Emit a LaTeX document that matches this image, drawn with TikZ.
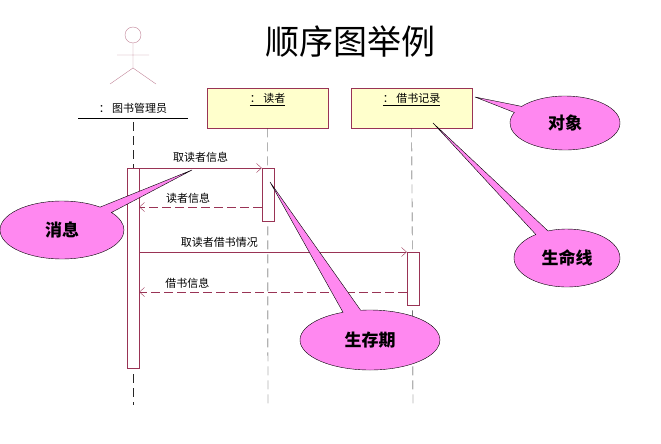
\documentclass[tikz,border=0pt]{standalone}
\usepackage{fontspec}
\setmainfont{Noto Sans CJK SC}
\usetikzlibrary{positioning, shapes.callouts, arrows.meta}
\definecolor{wine}{HTML}{993355}
\definecolor{objfill}{HTML}{FFFFCC}
\definecolor{pinkfill}{HTML}{FF88F0}

\begin{document}
\begin{tikzpicture}[
        x=1pt, y=-1pt,
        obj/.style={rectangle, draw=wine, fill=objfill, minimum width=121pt, minimum height=40pt, anchor=north west, inner sep=0pt},
        lifeline/.style={dashed, dash pattern=on 9pt off 5pt, gray!30!black},
        act/.style={rectangle, draw=wine, fill=white, minimum width=12pt, anchor=north, inner sep=0pt},
        msg/.style={wine, -{Straight Barb[length=5pt, width=9pt]}},
        ret/.style={msg, dashed, dash pattern=on 9pt off 4pt},
        lbl/.style={font=\fontsize{11}{13}\selectfont, inner sep=1pt},
        note/.style={ellipse callout, draw=black, fill=pinkfill, font=\fontsize{17}{20}\selectfont\bfseries, inner sep=2pt}
        ]
        \useasboundingbox (0,0) rectangle (661,444);
        % title
        \node[font=\fontsize{34}{40}\selectfont] (title) at (350,42) {顺序图举例};
        % actor
        \draw[wine!60] (133,35) circle (8);
        \draw[wine!60] (133,43) -- (133,68) (117,55) -- (149,55) (110,84) -- (133,68) -- (156,84);
        \node[lbl] (librarian) at (133,108) {：\ 图书管理员};
        \draw (78,118) -- (188,118);
        % objects
        \node[obj] (reader) at (207,88) {};
        \node[lbl, below=4pt of reader.north] (readerlbl) {\underline{：\ 读者}};
        \node[obj] (record) at (351,88) {};
        \node[lbl, below=4pt of record.north] (recordlbl) {\underline{：\ 借书记录}};
        % lifelines
        \coordinate (end1) at (133,405);
        \coordinate (end2) at (268,405);
        \coordinate (end3) at (413,405);
        \draw[lifeline] (133,122) -- (end1);
        \draw[lifeline] (reader.south) -- (end2);
        \draw[lifeline] (record.south) -- (end3);
        % activations
        \node[act, minimum height=200pt] (act1) at (133,168) {};
        \node[act, minimum height=53pt] (act2) at (268,168) {};
        \node[act, minimum height=53pt] (act3) at (413,252) {};
        % messages
        \draw[msg] (act1.north east) -- (act2.north west) node[lbl, midway, above=4pt, black] (m1) {取读者信息};
        \draw[ret] ([yshift=-39pt]act2.north west) -- ([yshift=-39pt]act1.north east) node[lbl, pos=0.6, above=2pt, black] (m2) {读者信息};
        \draw[msg] ([yshift=-84pt]act1.north east) -- (act3.north west) node[lbl, pos=0.3, above=3pt, black] (m3) {取读者借书情况};
        \draw[ret] ([yshift=-40pt]act3.north west) -- ([yshift=-124pt]act1.north east) node[lbl, pos=0.82, above=2pt, black] (m4) {借书信息};
        % callouts
        \node[note, minimum width=110pt, minimum height=54pt, callout absolute pointer={(475,97)}] (objnote) at (565,123) {对象};
        \node[note, minimum width=106pt, minimum height=58pt, callout absolute pointer={(433,123)}] (lifenote) at (567,258) {生命线};
        \node[note, minimum width=124pt, minimum height=58pt, callout absolute pointer={(192,170)}] (msgnote) at (62,230) {消息};
        \node[note, minimum width=140pt, minimum height=60pt, callout absolute pointer={(270,182)}] (actnote) at (370,340) {生存期};
    \end{tikzpicture}
\end{document}
